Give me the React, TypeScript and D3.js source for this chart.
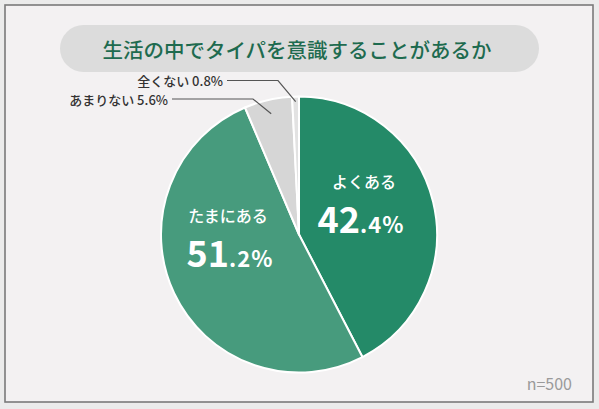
import React, { useEffect, useRef } from 'react';
import * as d3 from 'd3';

const categories = ['よくある', 'たまにある', 'あまりない', '全くない'];
const values = [42.4, 51.2, 5.6, 0.8];
const colors = ['#248a68', '#479b7d', '#d6d6d6', '#e2e2e2'];
const title = '生活の中でタイパを意識することがあるか';
const sampleNote = 'n=500';

const W = 599;
const H = 409;

const App: React.FC = () => {
    const svgRef = useRef<SVGSVGElement>(null);

    useEffect(() => {
        const svg = d3.select(svgRef.current);
        svg.selectAll('*').remove();
        const font = "'Noto Sans CJK JP', 'Noto Sans', sans-serif";

        // outer frame
        svg.append('rect').attr('width', W).attr('height', H).attr('fill', '#ebebeb');
        svg.append('rect')
            .attr('x', 5).attr('y', 5).attr('width', W - 11).attr('height', H - 12)
            .attr('fill', '#f3f1f2').attr('stroke', '#7a7a7a').attr('stroke-width', 1.6);

        // title pill
        svg.append('rect')
            .attr('x', 60).attr('y', 25).attr('width', 479).attr('height', 47)
            .attr('rx', 23.5).attr('fill', '#dcdcdc');
        svg.append('text')
            .attr('x', 297).attr('y', 49)
            .attr('text-anchor', 'middle').attr('dominant-baseline', 'central')
            .attr('font-family', font).attr('font-size', 20.5).attr('font-weight', 500)
            .attr('fill', '#1e6b4f')
            .text(title);

        // pie
        const cx = 299, cy = 234.5, r = 138;
        const data = categories.map((c, i) => ({ label: c, value: values[i], color: colors[i] }));
        const pie = d3.pie<any>().value((d) => d.value).sort(null);
        const arcs = pie(data);
        const arc = d3.arc<any>().innerRadius(0).outerRadius(r);

        const g = svg.append('g').attr('transform', `translate(${cx},${cy})`);
        g.selectAll('path')
            .data(arcs)
            .enter()
            .append('path')
            .attr('d', arc)
            .attr('fill', (d) => d.data.color)
            .attr('stroke', '#ffffff')
            .attr('stroke-width', 2)
            .attr('stroke-linejoin', 'round');

        // big labels inside the two large slices
        const inside = [
            { i: 0, lx: 65, ly: -53.5, vx: 62, vy: -1.5, big: '42', small: '.4%' },
            { i: 1, lx: -71, ly: -19.5, vx: -69, vy: 32.5, big: '51', small: '.2%' },
        ];
        inside.forEach((l) => {
            g.append('text')
                .attr('x', l.lx).attr('y', l.ly)
                .attr('text-anchor', 'middle').attr('dominant-baseline', 'central')
                .attr('font-family', font).attr('font-size', 16).attr('font-weight', 500)
                .attr('fill', '#ffffff')
                .text(categories[l.i]);
            const t = g.append('text')
                .attr('x', l.vx).attr('y', l.vy)
                .attr('text-anchor', 'middle')
                .attr('font-family', font).attr('fill', '#ffffff').attr('font-weight', 700);
            t.append('tspan').attr('font-size', 36).text(l.big);
            t.append('tspan').attr('font-size', 22).attr('letter-spacing', 1).text(l.small);
        });

        // outside labels with leader lines
        const outside = [
            { i: 3, tx: 223, ty: 80.5, elbowX: 278, rr: 133 },
            { i: 2, tx: 168, ty: 99, elbowX: 253, rr: 124 },
        ];
        outside.forEach((l) => {
            const a = arcs[l.i];
            const mid = (a.startAngle + a.endAngle) / 2;
            const px = cx + Math.sin(mid) * l.rr;
            const py = cy - Math.cos(mid) * l.rr;
            svg.append('polyline')
                .attr('points', `${l.tx + 4},${l.ty} ${l.elbowX},${l.ty} ${px},${py}`)
                .attr('fill', 'none').attr('stroke', '#555').attr('stroke-width', 1.2);
            svg.append('text')
                .attr('x', l.tx).attr('y', l.ty)
                .attr('text-anchor', 'end').attr('dominant-baseline', 'central')
                .attr('font-family', font).attr('font-size', 13).attr('font-weight', 500)
                .attr('fill', '#333')
                .text(`${categories[l.i]} ${values[l.i].toFixed(1)}%`);
        });

        svg.append('text')
            .attr('x', 572).attr('y', 383)
            .attr('text-anchor', 'end').attr('dominant-baseline', 'central')
            .attr('font-family', font).attr('font-size', 16)
            .attr('fill', '#9a9a9a')
            .text(sampleNote);
    }, []);

    return (
        <div style={{ position: 'absolute', left: 0, top: 0 }}>
            <svg ref={svgRef} width={W} height={H} style={{ display: 'block' }} />
        </div>
    );
};

export default App;
